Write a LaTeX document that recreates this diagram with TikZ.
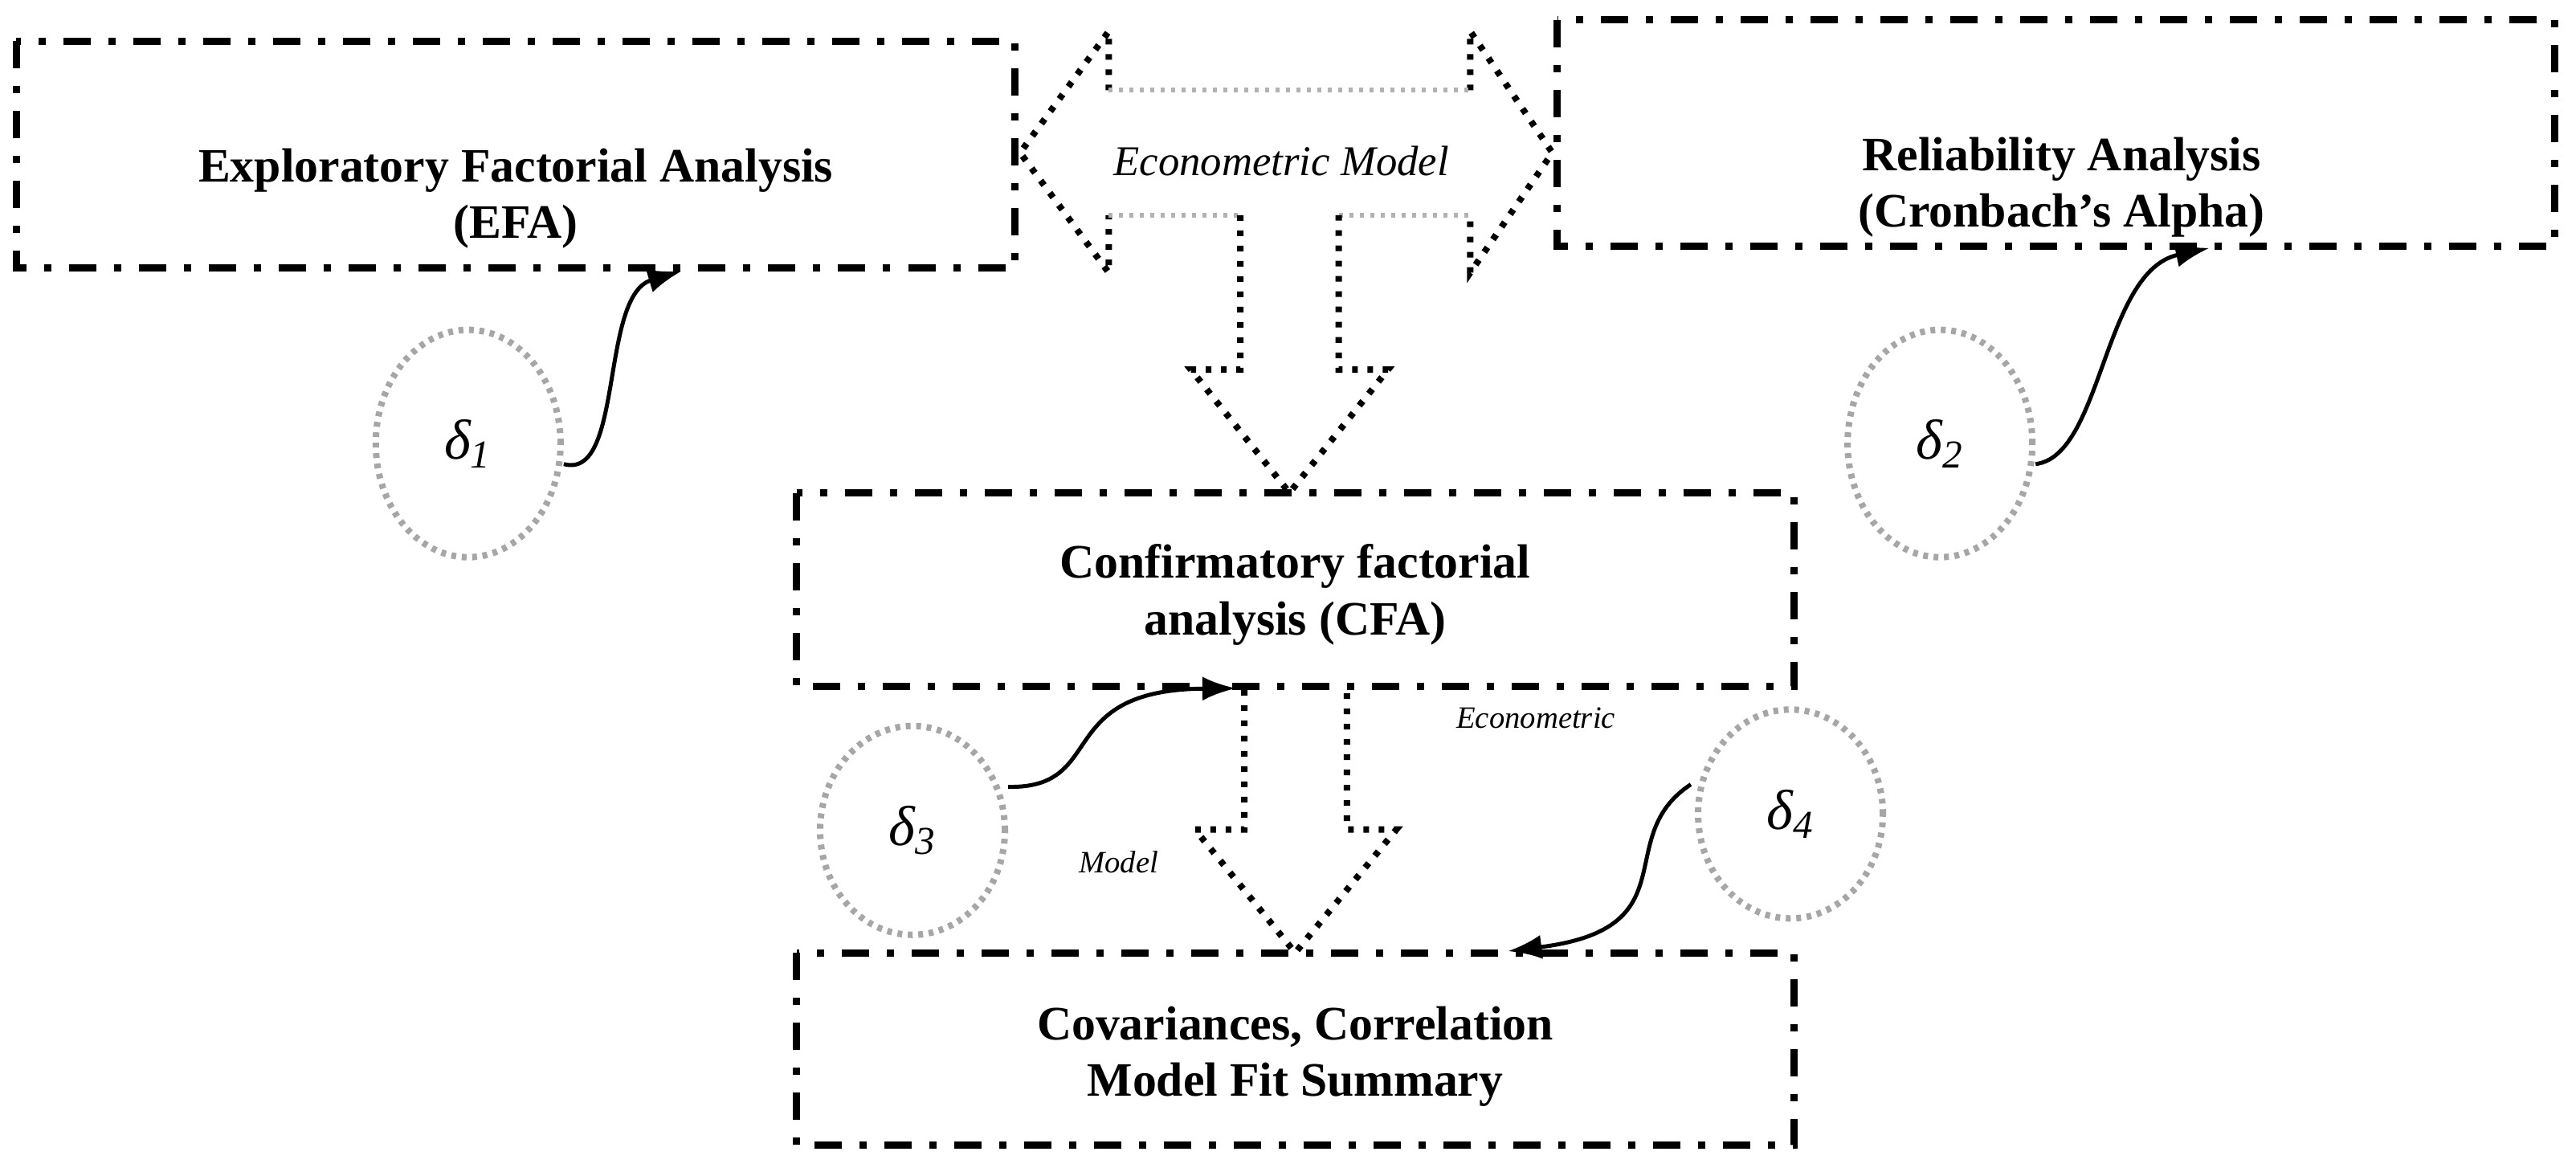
\documentclass[tikz,border=0pt]{standalone}
\usepackage{fontspec}
\setmainfont{Liberation Serif}
\usetikzlibrary{arrows.meta,shapes.geometric}
\begin{document}
\begin{tikzpicture}[x=0.010225cm,y=-0.010225cm,
  box/.style={draw,line width=0.09cm,dash pattern=on 0.34cm off 0.22cm on 0.09cm off 0.22cm},
  btxt/.style={font=\fontsize{17}{20}\selectfont\bfseries,align=center},
  dotb/.style={draw,line width=0.08cm,dash pattern=on 0.07cm off 0.12cm},
  dotg/.style={draw=gray!60,line width=0.06cm,dash pattern=on 0.05cm off 0.08cm},
  circ/.style={ellipse,draw=gray!70,line width=0.08cm,dash pattern=on 0.06cm off 0.07cm,minimum width=2.3cm,minimum height=2.6cm},
  ctxt/.style={font=\fontsize{20}{22}\selectfont\itshape},
  conn/.style={line width=0.05cm,-{Latex[length=0.42cm,width=0.3cm]}}]
\useasboundingbox (0,0) rectangle (3136.4,1426);
% boxes
\draw[box] (20,50) rectangle (1236,326);
\draw[box] (1896,24) rectangle (3110,300);
\draw[box] (970,600) rectangle (2184,836);
\draw[box] (970,1160) rectangle (2184,1394);
\node[btxt] (efa) at (628,242) {Exploratory Factorial Analysis\\(EFA)};
\node[btxt] (rel) at (2510,228) {Reliability Analysis\\(Cronbach’s Alpha)};
\node[btxt] (cfa) at (1577,724) {Confirmatory factorial\\analysis (CFA)};
\node[btxt] (cov) at (1577,1286) {Covariances, Correlation\\Model Fit Summary};
\coordinate (efab) at (830,330);
\coordinate (relb) at (2690,302);
\coordinate (cfab) at (1505,838);
\coordinate (covt) at (1836,1158);
% T arrow
\draw[dotb] (1350,110) -- (1350,38) -- (1242,186) -- (1350,332) -- (1350,262);
\draw[dotb] (1790,110) -- (1790,38) -- (1890,186) -- (1790,332) -- (1790,262);
\draw[dotg] (1350,110) -- (1790,110);
\draw[dotg] (1350,262) -- (1510,262);
\draw[dotg] (1630,262) -- (1790,262);
\draw[dotb] (1510,262) -- (1510,450) -- (1450,450) -- (1570,600) -- (1690,450) -- (1630,450) -- (1630,262);
\node[font=\fontsize{15}{17}\selectfont\itshape] (em) at (1560,196) {Econometric Model};
% lower arrow
\draw[dotb] (1515,840) -- (1515,1010) -- (1455,1010) -- (1577,1160) -- (1700,1010) -- (1640,1010) -- (1640,840);
\node[font=\fontsize{11}{13}\selectfont\itshape] (ec) at (1870,874) {Econometric};
\node[font=\fontsize{11}{13}\selectfont\itshape] (md) at (1362,1050) {Model};
% circles
\node[circ,minimum height=2.83cm] (s1) at (570,540) {};
\node[ctxt] at (570,540) {δ\textsubscript{1}};
\node[circ,minimum height=2.83cm] (s2) at (2362,540) {};
\node[ctxt] at (2362,540) {δ\textsubscript{2}};
\node[circ] (s3) at (1111,1011) {};
\node[ctxt] at (1111,1011) {δ\textsubscript{3}};
\node[circ] (s4) at (2180,991) {};
\node[ctxt] at (2180,991) {δ\textsubscript{4}};
% connectors
\draw[conn] (s1.east) ++(0,25) .. controls (760,585) and (730,360) .. (efab);
\draw[conn] (s2.east) ++(0,25) .. controls (2560,555) and (2560,330) .. (relb);
\draw[conn] (s3.east) ++(0,-53) .. controls (1350,960) and (1280,840) .. (cfab);
\draw[conn] (s4.west) ++(-5,-36) .. controls (1960,1020) and (2060,1130) .. (covt);
\end{tikzpicture}
\end{document}
